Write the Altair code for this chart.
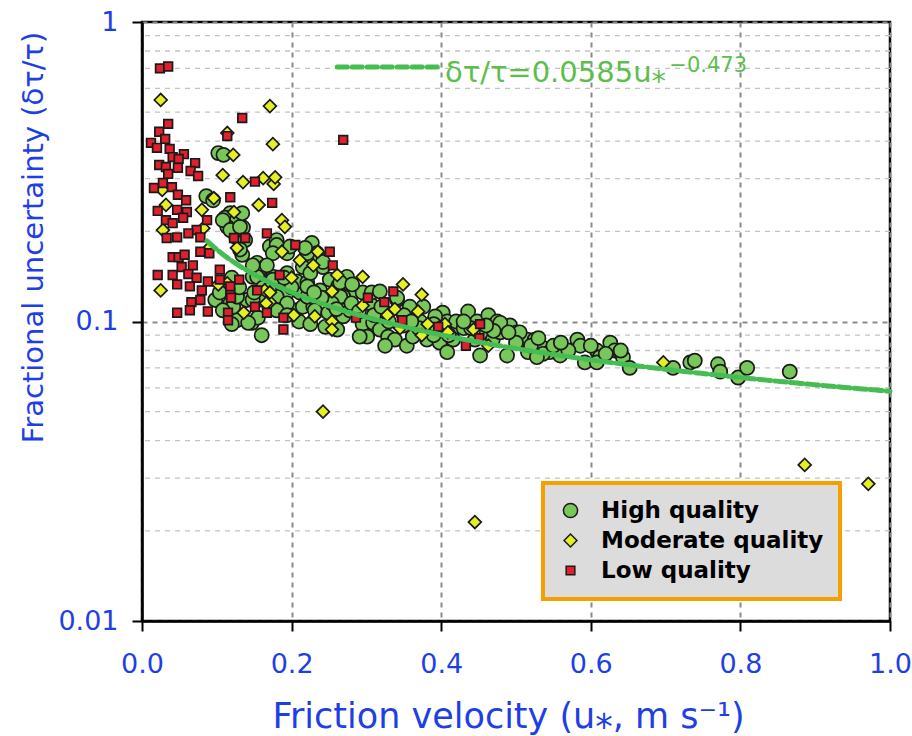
import altair as alt
import numpy as np
import pandas as pd

# ---------------- data ----------------
CATEGORIES = ["High quality", "Moderate quality", "Low quality"]

HIGH = [
    (.102, .365), (.109, .36), (.086, .262), (.095, .254), (.118, .23), (.111, .222), (.127, .218),
    (.135, .206), (.114, .207), (.126, .191), (.138, .187), (.134, .167), (.171, .178), (.18, .187),
    (.194, .169), (.227, .183), (.234, .169), (.225, .16), (.215, .152), (.242, .152), (.251, .138),
    (.262, .131), (.274, .141), (.282, .125), (.269, .121), (.295, .125), (.305, .115), (.322, .109),
    (.341, .118), (.358, .109), (.376, .112), (.402, .107), (.154, .157), (.164, .152), (.148, .141),
    (.175, .141), (.162, .135), (.184, .131), (.194, .125), (.18, .115), (.162, .118), (.140, .118),
    (.127, .125), (.118, .115), (.127, .101), (.147, .099), (.211, .125), (.225, .115), (.207, .109),
    (.16, .09), (.098, .118), (.104, .125), (.122, .112), (.108, .109), (.108, .218), (.118, .202),
    (.131, .207), (.131, .174), (.134, .23), (.18, .18), (.175, .169), (.198, .178), (.221, .169),
    (.167, .154), (.194, .145), (.207, .136), (.221, .135), (.175, .138), (.154, .141), (.148, .154),
    (.162, .13), (.18, .121), (.194, .115), (.215, .112), (.229, .112), (.221, .121), (.18, .109),
    (.194, .105), (.148, .118), (.127, .121), (.218, .176), (.242, .158), (.225, .145), (.221, .131),
    (.238, .127), (.265, .135), (.281, .133), (.307, .125), (.318, .126), (.341, .12), (.358, .112),
    (.231, .109), (.249, .107), (.269, .104), (.278, .109), (.295, .098), (.309, .099), (.301, .089),
    (.318, .094), (.329, .089), (.338, .087), (.354, .083), (.362, .089), (.381, .087), (.389, .094),
    (.398, .085), (.414, .094), (.416, .087), (.408, .1), (.436, .108), (.448, .1), (.463, .105),
    (.472, .098), (.461, .092), (.445, .087), (.452, .077), (.469, .087), (.291, .089), (.261, .094),
    (.245, .096), (.325, .083), (.265, .121), (.254, .115), (.372, .1), (.392, .104), (.42, .1),
    (.43, .095), (.39, .09), (.475, .1), (.492, .097), (.479, .092), (.501, .092), (.515, .087),
    (.525, .087), (.535, .082), (.545, .079), (.559, .077), (.516, .079), (.488, .077), (.408, .079),
    (.582, .087), (.586, .083), (.592, .073), (.608, .08), (.626, .085), (.632, .08), (.639, .079),
    (.643, .076), (.612, .076), (.652, .07), (.733, .073), (.739, .074), (.71, .07), (.77, .072),
    (.773, .068), (.797, .065), (.809, .07), (.866, .068), (.479, .099), (.505, .092), (.536, .078),
    (.528, .076), (.608, .073),
    (.28, .115), (.29, .108), (.31, .105), (.33, .1), (.35, .097), (.37, .095), (.39, .098),
    (.41, .09), (.44, .095), (.47, .093), (.50, .085), (.52, .083), (.55, .083), (.57, .08),
    (.62, .078), (.26, .11), (.24, .12), (.23, .125), (.20, .13), (.19, .14), (.17, .128),
    (.15, .125), (.13, .13), (.12, .14), (.21, .10), (.225, .098), (.155, .103), (.142, .099),
    (.12, .098), (.32, .112), (.35, .105), (.36, .10), (.40, .095), (.43, .10), (.46, .097),
    (.49, .092), (.53, .088), (.56, .085), (.60, .083), (.64, .08),
]

MODERATE = [
    (.025, .549), (.171, .524), (.114, .426), (.175, .391), (.122, .36), (.108, .308), (.135, .292),
    (.162, .301), (.176, .288), (.178, .303), (.156, .245), (.096, .258), (.032, .245), (.027, .275),
    (.080, .236), (.187, .218), (.191, .207), (.123, .232), (.028, .202), (.082, .205), (.025, .127),
    (.127, .176), (.114, .134), (.136, .107), (.295, .141), (.349, .133), (.374, .123), (.229, .154),
    (.211, .16), (.235, .171), (.261, .143), (.2, .14), (.164, .127), (.171, .116), (.102, .133),
    (.187, .171), (.171, .125), (.166, .115), (.203, .105), (.231, .104), (.090, .176), (.254, .126),
    (.254, .1), (.254, .094), (.295, .113), (.328, .105), (.338, .11), (.345, .095), (.369, .108),
    (.374, .09), (.382, .098), (.405, .098), (.409, .092), (.443, .094), (.463, .083), (.242, .05),
    (.445, .0214), (.886, .0332), (.971, .0287), (.697, .073),
]

LOW = [
    (.024, .70), (.035, .71), (.134, .478), (.114, .416), (.269, .404), (.035, .457), (.023, .43),
    (.031, .407), (.012, .395), (.020, .38), (.037, .377), (.041, .354), (.056, .362), (.049, .349),
    (.023, .333), (.032, .328), (.048, .326), (.071, .338), (.065, .318), (.075, .306), (.035, .311),
    (.016, .279), (.028, .29), (.040, .281), (.048, .265), (.059, .254), (.118, .26), (.174, .249),
    (.151, .293), (.021, .234), (.032, .218), (.047, .236), (.060, .232), (.055, .222), (.041, .213),
    (.087, .218), (.073, .202), (.033, .19), (.047, .191), (.062, .197), (.078, .191), (.167, .197),
    (.138, .19), (.123, .19), (.078, .171), (.090, .169), (.041, .164), (.049, .164), (.057, .167),
    (.053, .152), (.068, .154), (.041, .143), (.062, .144), (.073, .140), (.047, .133), (.021, .143),
    (.064, .131), (.080, .127), (.088, .136), (.104, .149), (.104, .138), (.118, .125), (.130, .138),
    (.118, .131), (.066, .116), (.078, .118), (.047, .107), (.064, .109), (.088, .108), (.115, .107),
    (.151, .112), (.167, .107), (.184, .143), (.205, .18), (.251, .171), (.255, .154), (.154, .127),
    (.189, .103), (.302, .12), (.336, .126), (.324, .116), (.348, .101), (.286, .103), (.396, .096),
    (.433, .083), (.452, .098), (.451, .088), (.189, .094), (.119, .12), (.115, .101),
]

# fit: dtau/tau = A * u*^B
FIT_A = 0.0585
FIT_B = -0.473
FIT_XMIN, FIT_XMAX = 0.087, 1.0

X_TICKS = [0.0, 0.2, 0.4, 0.6, 0.8, 1.0]
Y_TICKS = [0.01, 0.1, 1.0]
Y_MINOR = [0.02, 0.03, 0.04, 0.05, 0.06, 0.07, 0.08, 0.09,
           0.2, 0.3, 0.4, 0.5, 0.6, 0.7, 0.8, 0.9]

FIT_LABEL = "δτ/τ=0.0585u⁎"
FIT_EXP = "−0.473"
FIT_LABEL_POS = (0.405, 0.63)
FIT_EXP_POS = (0.705, 0.681)
FIT_KEY_X = [0.261, 0.398]
FIT_KEY_Y = [0.707, 0.707]

# ---------------- styling ----------------
BLUE = "#1f3fe6"
GREEN_LINE = "#45bd52"
GREEN_TXT = "#5cbf4c"
FILLS = ["#79c75b", "#e4ef24", "#e0202c"]
EDGES = ["#1a1a1a", "#1a1a1a", "#1a1a1a"]
SHAPES = ["circle", "diamond", "square"]
SIZES = [200, 165, 75]
FONT = "DejaVu Sans"

rows = []
for cat, pts in zip(CATEGORIES, [HIGH, MODERATE, LOW]):
    for x, y in pts:
        rows.append({"x": x, "y": y, "quality": cat})
pts_df = pd.DataFrame(rows)

fx = np.linspace(FIT_XMIN, FIT_XMAX, 200)
fit_df = pd.DataFrame({"x": fx, "y": FIT_A * fx ** FIT_B})

xscale = alt.Scale(domain=[0, 1], nice=False, zero=False)
yscale = alt.Scale(type="log", domain=[0.01, 1], nice=False)

legend = alt.Legend(
    title=None, orient="none", legendX=401, legendY=461,
    fillColor="#dcdcdc", strokeColor="#f5a000", padding=16,
    labelFont=FONT, labelFontSize=23, labelFontWeight="bold", labelColor="black",
    labelOffset=19, labelLimit=400, rowPadding=6, symbolStrokeWidth=1.5,
    symbolOpacity=1,
)

x_axis = alt.Axis(
    values=X_TICKS, format=".1f", labelFont=FONT, labelFontSize=27, labelColor=BLUE,
    labelPadding=20, labelFlush=False, labelOverlap=False,
    tickSize=10, tickWidth=2, tickColor="black", domainColor="black", domainWidth=2.5,
    grid=True, gridColor="#8a8a8a", gridDash=[5, 5], gridWidth=2,
    title="Friction velocity (u⁎, m s⁻¹)", titleFont=FONT, titleFontSize=35,
    titleFontWeight="normal", titleColor=BLUE, titleX=366, titleY=106,
    titleAlign="center", titleBaseline="alphabetic",
)
y_axis = alt.Axis(
    values=Y_TICKS, format="~g", labelFont=FONT, labelFontSize=27, labelColor=BLUE,
    labelPadding=14, labelFlush=False, labelOverlap=False,
    tickSize=10, tickWidth=2, tickColor="black", domainColor="black", domainWidth=2.5,
    grid=True, gridColor="#8a8a8a", gridDash=[5, 5], gridWidth=2,
    title="Fractional uncertainty (δτ/τ)", titleFont=FONT, titleFontSize=29,
    titleFontWeight="normal", titleColor=BLUE, titleX=-100, titleY=215,
    titleAngle=-90, titleAlign="center", titleBaseline="alphabetic",
)

minor = alt.Chart(pd.DataFrame({"y": Y_MINOR})).mark_rule(
    color="#c4c4c4", strokeDash=[5, 5], strokeWidth=1.3
).encode(y=alt.Y("y:Q", scale=yscale, axis=y_axis))

points = alt.Chart(pts_df).mark_point(
    filled=True, opacity=1, strokeWidth=1.7
).encode(
    x=alt.X("x:Q", scale=xscale, axis=x_axis),
    y=alt.Y("y:Q", scale=yscale),
    color=alt.Color("quality:N", scale=alt.Scale(domain=CATEGORIES, range=FILLS),
                    sort=CATEGORIES, legend=legend),
    stroke=alt.Stroke("quality:N", scale=alt.Scale(domain=CATEGORIES, range=EDGES),
                      sort=CATEGORIES, legend=legend),
    shape=alt.Shape("quality:N", scale=alt.Scale(domain=CATEGORIES, range=SHAPES),
                    sort=CATEGORIES, legend=legend),
    size=alt.Size("quality:N", scale=alt.Scale(type="ordinal", domain=CATEGORIES, range=SIZES),
                  sort=CATEGORIES, legend=legend),
)

fit = alt.Chart(fit_df).mark_line(
    color=GREEN_LINE, strokeWidth=5, strokeDash=[12, 4], strokeCap="round"
).encode(x=alt.X("x:Q", scale=xscale), y=alt.Y("y:Q", scale=yscale))

key = alt.Chart(pd.DataFrame({"x": FIT_KEY_X, "y": FIT_KEY_Y})).mark_line(
    color=GREEN_LINE, strokeWidth=5, strokeDash=[10, 5], strokeCap="round"
).encode(x=alt.X("x:Q", scale=xscale), y=alt.Y("y:Q", scale=yscale))

label = alt.Chart(pd.DataFrame({"x": [FIT_LABEL_POS[0]], "y": [FIT_LABEL_POS[1]], "t": [FIT_LABEL]})).mark_text(
    align="left", baseline="alphabetic", font=FONT, fontSize=29, color=GREEN_TXT
).encode(x=alt.X("x:Q", scale=xscale), y=alt.Y("y:Q", scale=yscale), text="t:N")

expo = alt.Chart(pd.DataFrame({"x": [FIT_EXP_POS[0]], "y": [FIT_EXP_POS[1]], "t": [FIT_EXP]})).mark_text(
    align="left", baseline="alphabetic", font=FONT, fontSize=21, color=GREEN_TXT
).encode(x=alt.X("x:Q", scale=xscale), y=alt.Y("y:Q", scale=yscale), text="t:N")

chart = alt.layer(minor, points, fit, key, label, expo).properties(
    width=748, height=599,
    autosize=alt.AutoSizeParams(type="none"),
    padding={"left": 142, "top": 22, "right": 22, "bottom": 115},
).configure_view(
    stroke="black", strokeWidth=2.5
).configure_legend(strokeWidth=4)

chart.save("out.html", embed_options={"renderer": "svg", "actions": False})
